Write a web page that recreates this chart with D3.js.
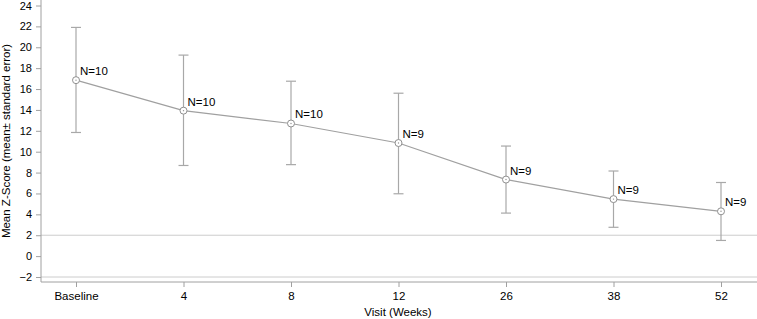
<!DOCTYPE html>
<html>
<head>
<meta charset="utf-8">
<script src="https://cdn.jsdelivr.net/npm/d3@7"></script>
<style>
  body { margin: 0; background: #fff; }
  svg text { font-family: "Liberation Sans", Arial, sans-serif; }
</style>
</head>
<body>
<div id="chart"></div>
<script>
const visits = ["Baseline", "4", "8", "12", "26", "38", "52"];
const means = [16.85, 13.93, 12.7, 10.83, 7.33, 5.46, 4.29];
const upper = [21.9, 19.25, 16.75, 15.6, 10.54, 8.15, 7.05];
const lower = [11.84, 8.68, 8.76, 5.97, 4.12, 2.76, 1.5];
const counts = [10, 10, 10, 9, 9, 9, 9];
const yTicks = [-2, 0, 2, 4, 6, 8, 10, 12, 14, 16, 18, 20, 22, 24];
const refLines = [2, -2];

const width = 757, height = 319;
const axisX = 41, axisBottom = 282;

const svg = d3.select("#chart").append("svg")
    .attr("width", width)
    .attr("height", height);

const x = d3.scalePoint()
    .domain(visits)
    .range([76, 721]);

const y = d3.scaleLinear()
    .domain([-2, 24])
    .range([277, 5.5]);

const data = visits.map((v, i) => ({
    visit: v, mean: means[i], hi: upper[i], lo: lower[i], n: counts[i]
}));

// reference lines
svg.selectAll("line.ref")
    .data(refLines)
    .enter().append("line")
    .attr("class", "ref")
    .attr("x1", axisX)
    .attr("x2", width)
    .attr("y1", d => y(d))
    .attr("y2", d => y(d))
    .attr("stroke", "#cccccc")
    .attr("stroke-width", 1);

// y axis
const yAxis = svg.append("g")
    .attr("transform", `translate(${axisX},0)`)
    .call(d3.axisLeft(y).tickValues(yTicks).tickSize(5).tickSizeOuter(0));
yAxis.select(".domain").remove();
yAxis.append("line")
    .attr("x1", 0).attr("x2", 0)
    .attr("y1", 0).attr("y2", axisBottom)
    .attr("stroke", "#a0a0a0");
yAxis.selectAll(".tick line").attr("stroke", "#a0a0a0");
yAxis.selectAll(".tick text")
    .attr("x", -9)
    .attr("fill", "#000")
    .style("font-size", "11px");

// x axis
const xAxis = svg.append("g")
    .attr("transform", `translate(0,${axisBottom})`)
    .call(d3.axisBottom(x).tickSize(5).tickSizeOuter(0));
xAxis.select(".domain").remove();
xAxis.append("line")
    .attr("x1", axisX).attr("x2", width)
    .attr("y1", 0).attr("y2", 0)
    .attr("stroke", "#a0a0a0");
xAxis.selectAll(".tick line").attr("stroke", "#a0a0a0");
xAxis.selectAll(".tick text")
    .attr("y", 10)
    .attr("fill", "#000")
    .style("font-size", "11.5px");

// axis titles
svg.append("text")
    .attr("x", 398)
    .attr("y", 316)
    .attr("text-anchor", "middle")
    .style("font-size", "11.5px")
    .text("Visit (Weeks)");

svg.append("text")
    .attr("transform", "rotate(-90)")
    .attr("x", -141)
    .attr("y", 10)
    .attr("text-anchor", "middle")
    .style("font-size", "11.5px")
    .text("Mean Z-Score (mean\u00b1  standard error)");

// error bars
const bars = svg.selectAll("g.err")
    .data(data)
    .enter().append("g")
    .attr("class", "err")
    .attr("stroke", "#a8a8a8")
    .attr("stroke-width", 1.2);
bars.append("line")
    .attr("x1", d => x(d.visit)).attr("x2", d => x(d.visit))
    .attr("y1", d => y(d.hi)).attr("y2", d => y(d.lo));
bars.append("line")
    .attr("x1", d => x(d.visit) - 5).attr("x2", d => x(d.visit) + 5)
    .attr("y1", d => y(d.hi)).attr("y2", d => y(d.hi));
bars.append("line")
    .attr("x1", d => x(d.visit) - 5).attr("x2", d => x(d.visit) + 5)
    .attr("y1", d => y(d.lo)).attr("y2", d => y(d.lo));

// mean line
svg.append("path")
    .datum(data)
    .attr("fill", "none")
    .attr("stroke", "#a0a0a0")
    .attr("stroke-width", 1.2)
    .attr("d", d3.line().x(d => x(d.visit)).y(d => y(d.mean)));

// markers
const pts = svg.selectAll("g.pt")
    .data(data)
    .enter().append("g")
    .attr("class", "pt")
    .attr("transform", d => `translate(${x(d.visit)},${y(d.mean)})`);
pts.append("circle")
    .attr("r", 3.5)
    .attr("fill", "#fff")
    .attr("stroke", "#909090")
    .attr("stroke-width", 1);
pts.append("circle")
    .attr("r", 0.7)
    .attr("fill", "#909090");

// N labels
svg.selectAll("text.n")
    .data(data)
    .enter().append("text")
    .attr("class", "n")
    .attr("x", d => x(d.visit) + 4)
    .attr("y", d => y(d.mean) - 5)
    .style("font-size", "11.5px")
    .attr("fill", "#000")
    .text(d => "N=" + d.n);
</script>
</body>
</html>
